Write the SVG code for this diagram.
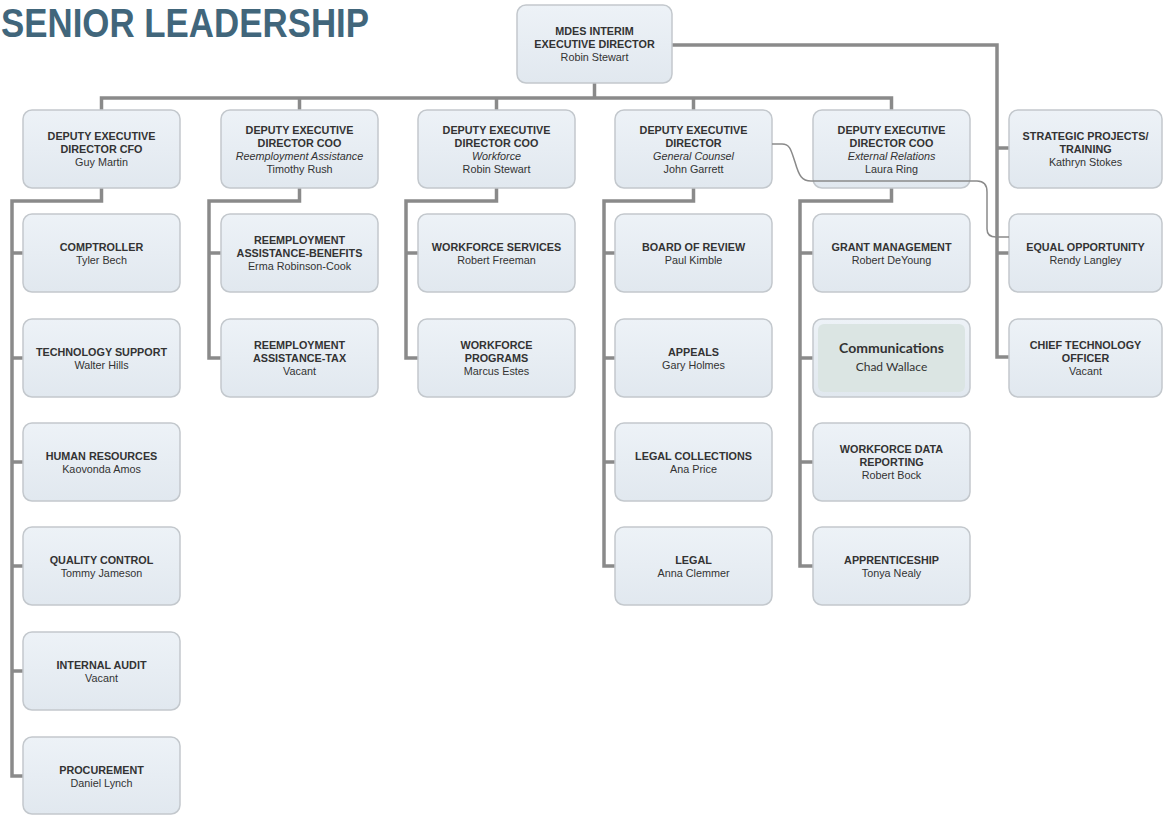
<svg xmlns="http://www.w3.org/2000/svg" width="1163" height="815" viewBox="0 0 1163 815">
<defs>
<linearGradient id="bg" x1="0" y1="0" x2="0" y2="1">
<stop offset="0" stop-color="#edf2f7"/>
<stop offset="1" stop-color="#e1e8ef"/>
</linearGradient>
<style>
.box{fill:url(#bg);stroke:#c3c8cd;stroke-width:1.5}
.t{font-family:"Liberation Sans",Arial,sans-serif;font-size:10.8px;fill:#333;text-anchor:middle}
.b{font-weight:bold}
.i{font-style:italic}
.c{fill:none;stroke:#8a8a8a;stroke-width:3.5}
.thin{fill:none;stroke:#8a8a8a;stroke-width:1.5}
.cm{font-family:Lato,"Open Sans",sans-serif;fill:#333;text-anchor:middle}
</style>
</defs>
<rect width="1163" height="815" fill="#ffffff"/>
<text x="1" y="36.5" font-family="'Liberation Sans Narrow','Liberation Sans',Arial,sans-serif" font-size="40" font-weight="bold" fill="#41667b" textLength="368" lengthAdjust="spacingAndGlyphs">SENIOR LEADERSHIP</text>

<g id="connectors">
<path class="c" d="M594.5,83 V98 M101.5,110 V98 H891.5 V110 M299.5,98 V110 M496.5,98 V110 M693.5,98 V110"/>
<path class="c" d="M672,45 H997 V357 H1009 M997,148 H1009 M997,253 H1009"/>
<path class="c" d="M101.5,188 V201 H12 V776 H23 M12,253 H23 M12,358 H23 M12,462 H23 M12,566 H23 M12,671 H23"/>
<path class="c" d="M299.5,188 V201 H209 V358 H221 M209,253 H221"/>
<path class="c" d="M496.5,188 V201 H406 V358 H418 M406,253 H418"/>
<path class="c" d="M693.5,188 V201 H604 V566 H615 M604,253 H615 M604,358 H615 M604,462 H615"/>
<path class="c" d="M891.5,188 V201 H800 V566 H813 M800,253 H813 M800,358 H813 M800,462 H813"/>
</g>

<g id="n-top"><rect class="box" x="517" y="5" width="155" height="78" rx="9"/>
<text class="t b" x="594.5" y="35">MDES INTERIM</text><text class="t b" x="594.5" y="48">EXECUTIVE DIRECTOR</text><text class="t" x="594.5" y="61">Robin Stewart</text></g>

<g id="n-cfo"><rect class="box" x="23" y="110" width="157" height="78" rx="9"/>
<text class="t b" x="101.5" y="140">DEPUTY EXECUTIVE</text><text class="t b" x="101.5" y="153">DIRECTOR CFO</text><text class="t" x="101.5" y="166">Guy Martin</text></g>

<g id="n-coo-ra"><rect class="box" x="221" y="110" width="157" height="78" rx="9"/>
<text class="t b" x="299.5" y="133.5">DEPUTY EXECUTIVE</text><text class="t b" x="299.5" y="146.5">DIRECTOR COO</text><text class="t i" x="299.5" y="159.5">Reemployment Assistance</text><text class="t" x="299.5" y="172.5">Timothy Rush</text></g>

<g id="n-coo-wf"><rect class="box" x="418" y="110" width="157" height="78" rx="9"/>
<text class="t b" x="496.5" y="133.5">DEPUTY EXECUTIVE</text><text class="t b" x="496.5" y="146.5">DIRECTOR COO</text><text class="t i" x="496.5" y="159.5">Workforce</text><text class="t" x="496.5" y="172.5">Robin Stewart</text></g>

<g id="n-gc"><rect class="box" x="615" y="110" width="157" height="78" rx="9"/>
<text class="t b" x="693.5" y="133.5">DEPUTY EXECUTIVE</text><text class="t b" x="693.5" y="146.5">DIRECTOR</text><text class="t i" x="693.5" y="159.5">General Counsel</text><text class="t" x="693.5" y="172.5">John Garrett</text></g>

<g id="n-coo-er"><rect class="box" x="813" y="110" width="157" height="78" rx="9"/>
<text class="t b" x="891.5" y="133.5">DEPUTY EXECUTIVE</text><text class="t b" x="891.5" y="146.5">DIRECTOR COO</text><text class="t i" x="891.5" y="159.5">External Relations</text><text class="t" x="891.5" y="172.5">Laura Ring</text></g>

<g id="n-strategic"><rect class="box" x="1009" y="110" width="153" height="78" rx="9"/>
<text class="t b" x="1085.5" y="140">STRATEGIC PROJECTS/</text><text class="t b" x="1085.5" y="153">TRAINING</text><text class="t" x="1085.5" y="166">Kathryn Stokes</text></g>

<g id="n-comptroller"><rect class="box" x="23" y="214" width="157" height="78" rx="9"/>
<text class="t b" x="101.5" y="250.5">COMPTROLLER</text><text class="t" x="101.5" y="263.5">Tyler Bech</text></g>
<g id="n-techsupport"><rect class="box" x="23" y="319" width="157" height="78" rx="9"/>
<text class="t b" x="101.5" y="355.5">TECHNOLOGY SUPPORT</text><text class="t" x="101.5" y="368.5">Walter Hills</text></g>
<g id="n-hr"><rect class="box" x="23" y="423" width="157" height="78" rx="9"/>
<text class="t b" x="101.5" y="459.5">HUMAN RESOURCES</text><text class="t" x="101.5" y="472.5">Kaovonda Amos</text></g>
<g id="n-quality"><rect class="box" x="23" y="527" width="157" height="78" rx="9"/>
<text class="t b" x="101.5" y="563.5">QUALITY CONTROL</text><text class="t" x="101.5" y="576.5">Tommy Jameson</text></g>
<g id="n-audit"><rect class="box" x="23" y="632" width="157" height="78" rx="9"/>
<text class="t b" x="101.5" y="668.5">INTERNAL AUDIT</text><text class="t" x="101.5" y="681.5">Vacant</text></g>
<g id="n-procurement"><rect class="box" x="23" y="737" width="157" height="77" rx="9"/>
<text class="t b" x="101.5" y="773.5">PROCUREMENT</text><text class="t" x="101.5" y="786.5">Daniel Lynch</text></g>

<g id="n-ra-benefits"><rect class="box" x="221" y="214" width="157" height="78" rx="9"/>
<text class="t b" x="299.5" y="244">REEMPLOYMENT</text><text class="t b" x="299.5" y="257">ASSISTANCE-BENEFITS</text><text class="t" x="299.5" y="270">Erma Robinson-Cook</text></g>
<g id="n-ra-tax"><rect class="box" x="221" y="319" width="157" height="78" rx="9"/>
<text class="t b" x="299.5" y="349">REEMPLOYMENT</text><text class="t b" x="299.5" y="362">ASSISTANCE-TAX</text><text class="t" x="299.5" y="375">Vacant</text></g>

<g id="n-wf-services"><rect class="box" x="418" y="214" width="157" height="78" rx="9"/>
<text class="t b" x="496.5" y="250.5">WORKFORCE SERVICES</text><text class="t" x="496.5" y="263.5">Robert Freeman</text></g>
<g id="n-wf-programs"><rect class="box" x="418" y="319" width="157" height="78" rx="9"/>
<text class="t b" x="496.5" y="349">WORKFORCE</text><text class="t b" x="496.5" y="362">PROGRAMS</text><text class="t" x="496.5" y="375">Marcus Estes</text></g>

<g id="n-board"><rect class="box" x="615" y="214" width="157" height="78" rx="9"/>
<text class="t b" x="693.5" y="250.5">BOARD OF REVIEW</text><text class="t" x="693.5" y="263.5">Paul Kimble</text></g>
<g id="n-appeals"><rect class="box" x="615" y="319" width="157" height="78" rx="9"/>
<text class="t b" x="693.5" y="355.5">APPEALS</text><text class="t" x="693.5" y="368.5">Gary Holmes</text></g>
<g id="n-legal-coll"><rect class="box" x="615" y="423" width="157" height="78" rx="9"/>
<text class="t b" x="693.5" y="459.5">LEGAL COLLECTIONS</text><text class="t" x="693.5" y="472.5">Ana Price</text></g>
<g id="n-legal"><rect class="box" x="615" y="527" width="157" height="78" rx="9"/>
<text class="t b" x="693.5" y="563.5">LEGAL</text><text class="t" x="693.5" y="576.5">Anna Clemmer</text></g>

<g id="n-grant"><rect class="box" x="813" y="214" width="157" height="78" rx="9"/>
<text class="t b" x="891.5" y="250.5">GRANT MANAGEMENT</text><text class="t" x="891.5" y="263.5">Robert DeYoung</text></g>
<g id="n-comm"><rect class="box" x="813" y="319" width="157" height="78" rx="9"/>
<rect x="818" y="324" width="147" height="68" rx="6" fill="#dbe5e3"/>
<text class="cm" x="891.5" y="353" font-size="14" font-weight="bold">Communications</text><text class="cm" x="891.5" y="371" font-size="12">Chad Wallace</text></g>
<g id="n-wf-data"><rect class="box" x="813" y="423" width="157" height="78" rx="9"/>
<text class="t b" x="891.5" y="453">WORKFORCE DATA</text><text class="t b" x="891.5" y="466">REPORTING</text><text class="t" x="891.5" y="479">Robert Bock</text></g>
<g id="n-apprentice"><rect class="box" x="813" y="527" width="157" height="78" rx="9"/>
<text class="t b" x="891.5" y="563.5">APPRENTICESHIP</text><text class="t" x="891.5" y="576.5">Tonya Nealy</text></g>

<g id="n-equal"><rect class="box" x="1009" y="214" width="153" height="78" rx="9"/>
<text class="t b" x="1085.5" y="250.5">EQUAL OPPORTUNITY</text><text class="t" x="1085.5" y="263.5">Rendy Langley</text></g>
<g id="n-cto"><rect class="box" x="1009" y="319" width="153" height="78" rx="9"/>
<text class="t b" x="1085.5" y="349">CHIEF TECHNOLOGY</text><text class="t b" x="1085.5" y="362">OFFICER</text><text class="t" x="1085.5" y="375">Vacant</text></g>

<g id="connector-dotted">
<path class="thin" d="M772,144 H782 C790,144 791,150 795,162 C799,176 802,181 811,181 H977 C984,181 987,185 987,192 V229 C987,235 990,237 996,237 H1009"/>
</g>
</svg>
